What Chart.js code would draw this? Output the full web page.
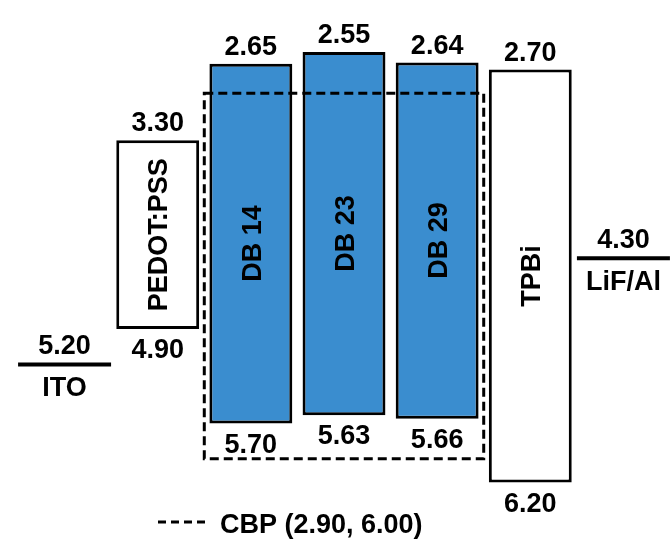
<!DOCTYPE html>
<html><head><meta charset="utf-8">
<script src="https://cdn.jsdelivr.net/npm/chart.js@4.4.1/dist/chart.umd.min.js"></script>
<style>html,body{margin:0;padding:0;background:#fff}#wrap{width:670px;height:539px;position:relative}</style>
</head><body><div id="wrap"><canvas id="c"></canvas></div>
<script>
// ---- data ----
const layers = ['ITO', 'PEDOT:PSS', 'DB 14', 'DB 23', 'DB 29', 'TPBi', 'LiF/Al'];
const lumo = [null, 3.30, 2.65, 2.55, 2.64, 2.70, null];   // upper level (eV)
const homo = [null, 4.90, 5.70, 5.63, 5.66, 6.20, null];   // lower level (eV)
const electrodeLevels = [5.20, null, null, null, null, null, 4.30]; // work functions (eV)
const cbpLabel = 'CBP';
const cbpLevels = [2.90, 6.00];
const cbpHost = 'DB 23';
const blueLayers = ['DB 14', 'DB 23', 'DB 29'];

// ---- styles ----
const BLUE = '#3a8dcf';
const FSIZE = 27;
const FONT = 'bold ' + FSIZE + 'px "Liberation Sans", Arial, sans-serif';
const CAP = FSIZE * 0.716;

const layerBars = layers.map((_, i) => lumo[i] != null ? [lumo[i], homo[i]] : null);
const cbpBars = layers.map(l => l === cbpHost ? cbpLevels.slice() : null);
const fmt = v => v.toFixed(2);

const labelPlugin = {
  id: 'levelLabels',
  afterDatasetsDraw(chart) {
    const ctx = chart.ctx;
    ctx.save();
    // CBP dashed box
    chart.getDatasetMeta(1).data.forEach((el, i) => {
      if (!cbpBars[i]) return;
      const p = el.getProps(['x', 'y', 'base', 'width'], true);
      const top = Math.min(p.y, p.base), bot = Math.max(p.y, p.base);
      ctx.save();
      ctx.setLineDash([9, 5]);
      ctx.lineWidth = 3;
      ctx.strokeStyle = '#000';
      ctx.strokeRect(p.x - p.width / 2, top, p.width, bot - top);
      ctx.restore();
    });
    ctx.font = FONT;
    ctx.fillStyle = '#000';
    ctx.textAlign = 'center';
    ctx.textBaseline = 'alphabetic';
    chart.getDatasetMeta(0).data.forEach((el, i) => {
      if (!layerBars[i]) return;
      const p = el.getProps(['x', 'y', 'base'], true);
      const top = Math.min(p.y, p.base), bot = Math.max(p.y, p.base);
      ctx.fillText(fmt(lumo[i]), p.x, top - 9);
      ctx.fillText(fmt(homo[i]), p.x, bot + 10 + CAP);
      ctx.save();
      ctx.translate(p.x, (top + bot) / 2);
      ctx.rotate(-Math.PI / 2);
      ctx.fillText(layers[i], 0, CAP / 2);
      ctx.restore();
    });
    chart.getDatasetMeta(2).data.forEach((el, i) => {
      if (electrodeLevels[i] == null) return;
      const p = el.getProps(['x', 'y'], true);
      ctx.fillText(fmt(electrodeLevels[i]), p.x, p.y - 10);
      ctx.fillText(layers[i], p.x, p.y + 12 + CAP);
    });
    ctx.restore();
  },
  afterDraw(chart) {
    // legend for the CBP dashed box
    const ctx = chart.ctx;
    const ds = chart.data.datasets[1];
    const y = chart.chartArea.bottom + 29;
    ctx.save();
    ctx.strokeStyle = '#000';
    ctx.lineWidth = 3;
    ctx.setLineDash([8, 5]);
    ctx.beginPath();
    ctx.moveTo(158, y);
    ctx.lineTo(206, y);
    ctx.stroke();
    ctx.setLineDash([]);
    ctx.font = FONT;
    ctx.fillStyle = '#000';
    ctx.textAlign = 'left';
    ctx.textBaseline = 'alphabetic';
    ctx.fillText(ds.label, 220, y + 11);
    ctx.restore();
  }
};

new Chart(document.getElementById('c'), {
  type: 'bar',
  data: {
    labels: layers,
    datasets: [
      {
        label: 'Layers',
        data: layerBars,
        backgroundColor: layers.map(l => blueLayers.includes(l) ? BLUE : '#ffffff'),
        borderColor: '#000',
        borderWidth: 3,
        borderSkipped: false,
        grouped: false,
        categoryPercentage: 1,
        barPercentage: 0.89,
        order: 2
      },
      {
        label: cbpLabel + ' (' + fmt(cbpLevels[0]) + ', ' + fmt(cbpLevels[1]) + ')',
        data: cbpBars,
        backgroundColor: 'rgba(0,0,0,0)',
        borderWidth: 0,
        grouped: false,
        categoryPercentage: 1,
        barPercentage: 3.0,
        order: 1
      },
      {
        type: 'line',
        label: 'Electrodes',
        data: electrodeLevels,
        showLine: false,
        pointStyle: 'line',
        pointRadius: 46.5,
        pointHoverRadius: 46.5,
        pointBorderWidth: 4,
        pointBorderColor: '#000',
        pointBackgroundColor: '#000',
        clip: false,
        order: 0
      }
    ]
  },
  options: {
    responsive: true,
    maintainAspectRatio: false,
    animation: false,
    events: [],
    layout: { autoPadding: false, padding: { left: 18, right: 0, top: 0, bottom: 46 } },
    plugins: { legend: { display: false }, tooltip: { enabled: false } },
    scales: {
      x: { display: false, offset: true },
      y: { display: false, reverse: true, min: 2.11, max: 6.29 }
    }
  },
  plugins: [labelPlugin]
});
</script>
</body></html>
